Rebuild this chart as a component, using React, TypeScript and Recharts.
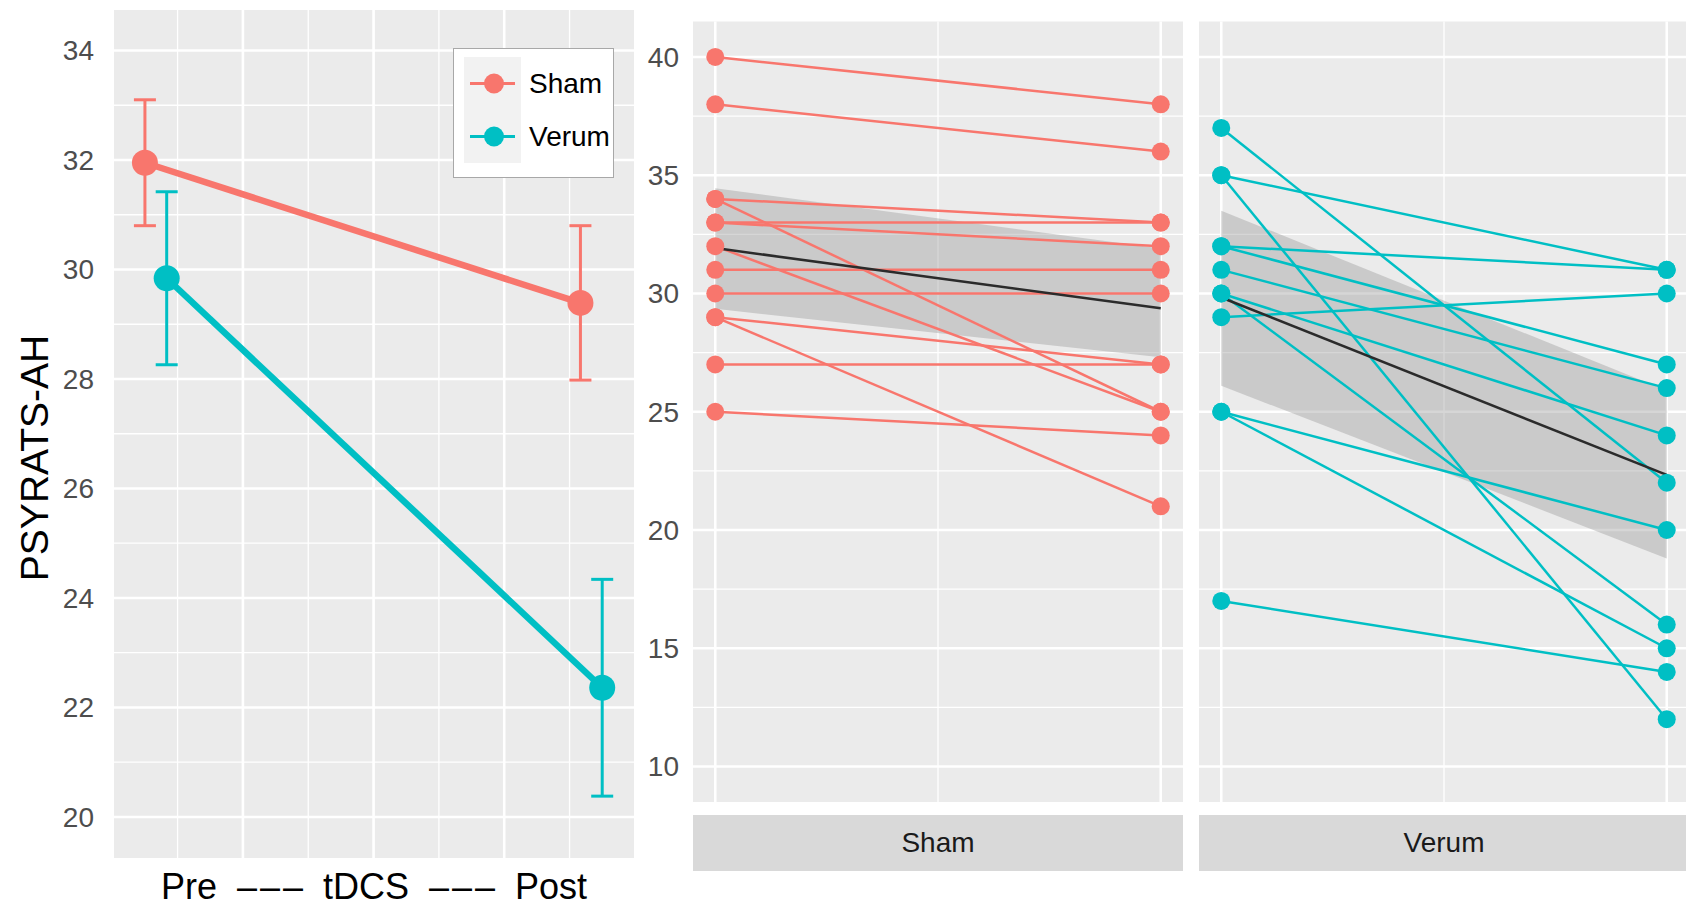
import React from 'react';
import { ComposedChart, Line, Area, XAxis, YAxis, CartesianGrid, ErrorBar, Legend } from 'recharts';

const FONT = '"Liberation Sans", Arial, Helvetica, sans-serif';
const SHAM = '#F8766D';
const VERUM = '#00BFC4';

// left panel: group means with SE, Pre (1) and Post (2), dodged
const timepoints = [1, 2];
const shamMean = [31.95, 29.39];
const shamSE = [1.15, 1.41];
const verumMean = [29.84, 22.36];
const verumSE = [1.58, 1.98];
const summaryTicks = [20, 22, 24, 26, 28, 30, 32, 34];
const summaryMinor = [21, 23, 25, 27, 29, 31, 33];
const summaryXMajor = [1.2, 1.5, 1.8];
const summaryXMinor = [1.05, 1.35, 1.65, 1.95];

// right panels: individual subjects, pre (x=0) -> post (x=1)
const shamPre = [40, 38, 34, 34, 33, 33, 32, 31, 30, 29, 29, 27, 25];
const shamPost = [38, 36, 33, 25, 33, 32, 25, 31, 30, 27, 21, 27, 24];
const verumPre = [37, 35, 35, 32, 32, 31, 30, 30, 29, 25, 25, 17];
const verumPost = [22, 31, 12, 31, 27, 26, 24, 16, 30, 20, 15, 14];

// linear fit with confidence band
const shamFit = [31.92, 29.38];
const shamBandLow = [29.35, 27.3];
const shamBandHigh = [34.45, 31.9];
const verumFit = [29.83, 22.33];
const verumBandLow = [26.1, 18.8];
const verumBandHigh = [33.5, 25.9];

const facetTicks = [10, 15, 20, 25, 30, 35, 40];
const facetMinor = [12.5, 17.5, 22.5, 27.5, 32.5, 37.5];

const DASHES = '–\u200a–\u200a–';
const xTitle = ['Pre', DASHES, 'tDCS', DASHES, 'Post'].join('\u00a0\u00a0');

const summaryRows = (means: number[], ses: number[], off: number) =>
  timepoints.map((t, i) => ({ x: t + off, y: means[i], err: ses[i] }));

const facetRows = (pre: number[], post: number[], fit: number[], lo: number[], hi: number[]) =>
  [0, 1].map((t) => {
    const row: any = { x: t, fit: fit[t], band: [lo[t], hi[t]] };
    (t === 0 ? pre : post).forEach((v, i) => {
      row['s' + i] = v;
    });
    return row;
  });

const legendItems = [
  { name: 'Sham', color: SHAM },
  { name: 'Verum', color: VERUM },
];

function LegendBox() {
  return (
    <div
      style={{
        width: 161,
        height: 130,
        boxSizing: 'border-box',
        background: '#fff',
        border: '1.5px solid #a8a8a8',
        paddingTop: 8,
        fontFamily: FONT,
      }}
    >
      {legendItems.map((it) => (
        <div key={it.name} style={{ display: 'flex', alignItems: 'center', height: 53 }}>
          <div style={{ marginLeft: 10, width: 57, height: 53, background: '#F2F2F2' }}>
            <svg width={57} height={53}>
              <line x1={6} x2={51} y1={26.5} y2={26.5} stroke={it.color} strokeWidth={3} />
              <circle cx={30} cy={26.5} r={10} fill={it.color} />
            </svg>
          </div>
          <span style={{ marginLeft: 8, fontSize: 28, color: '#000' }}>{it.name}</span>
        </div>
      ))}
    </div>
  );
}

function SummaryPanel() {
  const sham = summaryRows(shamMean, shamSE, -0.025);
  const verum = summaryRows(verumMean, verumSE, 0.025);
  return (
    <div style={{ position: 'absolute', left: 0, top: 0 }}>
      <ComposedChart width={640} height={907} margin={{ top: 10, right: 6, bottom: 0, left: 0 }}>
        <CartesianGrid fill="#EBEBEB" stroke="#fff" strokeWidth={2.6}
          horizontalValues={summaryTicks} verticalValues={summaryXMajor} />
        <CartesianGrid stroke="#fff" strokeWidth={1.3}
          horizontalValues={summaryMinor} verticalValues={summaryXMinor} />
        <XAxis type="number" dataKey="x" domain={[0.904, 2.098]} allowDataOverflow hide height={0} />
        {/* title-only axis under the panel */}
        <XAxis xAxisId="title" type="number" domain={[0, 1]} height={49}
          tick={false} axisLine={false} tickLine={false}
          label={{
            value: xTitle,
            position: 'insideBottom',
            offset: 8,
            style: { fill: '#000', fontSize: 36, fontFamily: FONT },
          }} />
        <YAxis type="number" domain={[19.25, 34.74]} allowDataOverflow ticks={summaryTicks} width={114}
          axisLine={false} tickLine={false} tickSize={0} tickMargin={20}
          tick={{ fill: '#4D4D4D', fontSize: 28, fontFamily: FONT }}
          label={{
            content: () => (
              <text x={48} y={458} transform="rotate(-90 48 458)" textAnchor="middle"
                fill="#000" fontSize={39} fontFamily={FONT}>PSYRATS-AH</text>
            ),
          }} />
        <Line data={sham} dataKey="y" name="Sham" stroke={SHAM} strokeWidth={6.5}
          dot={{ r: 13, fill: SHAM, stroke: 'none' }} activeDot={false} isAnimationActive={false}>
          <ErrorBar dataKey="err" direction="y" width={11} strokeWidth={3} stroke={SHAM} />
        </Line>
        <Line data={verum} dataKey="y" name="Verum" stroke={VERUM} strokeWidth={6.5}
          dot={{ r: 13, fill: VERUM, stroke: 'none' }} activeDot={false} isAnimationActive={false}>
          <ErrorBar dataKey="err" direction="y" width={11} strokeWidth={3} stroke={VERUM} />
        </Line>
        <Legend verticalAlign="middle" content={() => <LegendBox />}
          wrapperStyle={{ top: 48, left: 453, width: 161 }} />
      </ComposedChart>
    </div>
  );
}

function Facet({ left, axis, rows, n, color, label }: any) {
  const axisW = axis ? 80 : 0;
  const keys = Array.from({ length: n }, (_, i) => 's' + i);
  return (
    <div style={{ position: 'absolute', left: left - axisW, top: 0 }}>
      <ComposedChart width={490 + axisW} height={907} data={rows}
        margin={{ top: 21.5, right: 0, bottom: 105, left: 0 }}>
        <CartesianGrid fill="#EBEBEB" stroke="#fff" strokeWidth={2.6}
          horizontalValues={facetTicks} verticalValues={[0, 1]} />
        <CartesianGrid stroke="#fff" strokeWidth={1.3}
          horizontalValues={facetMinor} verticalValues={[0.5]} />
        <XAxis type="number" dataKey="x" domain={[-0.05, 1.05]} allowDataOverflow hide />
        <YAxis type="number" domain={[8.5, 41.5]} allowDataOverflow ticks={facetTicks}
          hide={!axis} width={axisW} axisLine={false} tickLine={false} tickSize={0} tickMargin={14}
          tick={{ fill: '#4D4D4D', fontSize: 28, fontFamily: FONT }} />
        {keys.map((k) => (
          <Line key={k} dataKey={k} stroke={color} strokeWidth={2.5}
            dot={{ r: 9, fill: color, stroke: 'none' }} activeDot={false} isAnimationActive={false} />
        ))}
        <Area dataKey="band" type="linear" fill="#999999" fillOpacity={0.4} stroke="none"
          activeDot={false} isAnimationActive={false} />
        <Line dataKey="fit" stroke="#2B2B2B" strokeWidth={2.5} dot={false} activeDot={false}
          isAnimationActive={false} />
      </ComposedChart>
      <div
        style={{
          position: 'absolute',
          left: axisW,
          top: 815,
          width: 490,
          height: 56,
          background: '#D9D9D9',
          color: '#1A1A1A',
          fontFamily: FONT,
          fontSize: 28,
          display: 'flex',
          alignItems: 'center',
          justifyContent: 'center',
        }}
      >
        {label}
      </div>
    </div>
  );
}

export default function App() {
  return (
    <div style={{ position: 'absolute', left: 0, top: 0, width: 1686, height: 907, overflow: 'hidden', background: '#fff' }}>
      <SummaryPanel />
      <Facet left={693} axis rows={facetRows(shamPre, shamPost, shamFit, shamBandLow, shamBandHigh)}
        n={shamPre.length} color={SHAM} label="Sham" />
      <Facet left={1199} axis={false} rows={facetRows(verumPre, verumPost, verumFit, verumBandLow, verumBandHigh)}
        n={verumPre.length} color={VERUM} label="Verum" />
    </div>
  );
}
